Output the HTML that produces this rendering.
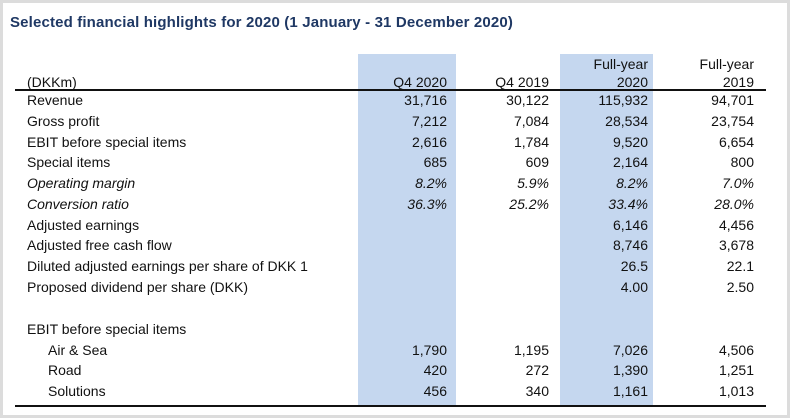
<!DOCTYPE html>
<html><head><style>
body{margin:0;width:790px;height:418px;background:#fff;position:relative;overflow:hidden;font-family:"Liberation Sans",Arial,sans-serif;}
.frame{position:absolute;left:0;top:0;width:784px;height:412px;border:3px solid #dcdcdc;}
.t{position:absolute;left:10px;top:14px;font-weight:bold;font-size:15px;letter-spacing:0.15px;color:#1f3864;}
.b{position:absolute;background:#c5d7ef;top:54px;height:352px;}
.l{position:absolute;height:2px;background:#111;left:15px;width:751px;}
.r{position:absolute;font-size:14px;color:#111;line-height:16px;white-space:nowrap;}
.n{text-align:right;}
</style></head><body>
<div class="frame"></div>
<div class="t">Selected financial highlights for 2020 (1 January - 31 December 2020)</div>
<div class="b" style="left:358px;width:98px"></div>
<div class="b" style="left:560px;width:93px"></div>
<div class="l" style="top:89px"></div>
<div class="l" style="top:405px"></div>
<div id="c"></div>
<script>
var rows=[
["(DKKm)","Q4 2020","Q4 2019","2020","2019",75,0],
["Revenue","31,716","30,122","115,932","94,701",93],
["Gross profit","7,212","7,084","28,534","23,754",114],
["EBIT before special items","2,616","1,784","9,520","6,654",135],
["Special items","685","609","2,164","800",155],
["Operating margin","8.2%","5.9%","8.2%","7.0%",176,1],
["Conversion ratio","36.3%","25.2%","33.4%","28.0%",197,1],
["Adjusted earnings","","","6,146","4,456",218],
["Adjusted free cash flow","","","8,746","3,678",238],
["Diluted adjusted earnings per share of DKK 1","","","26.5","22.1",259],
["Proposed dividend per share (DKK)","","","4.00","2.50",280],
["EBIT before special items","","","","",322],
["Air &amp; Sea","1,790","1,195","7,026","4,506",343,0,1],
["Road","420","272","1,390","1,251",363,0,1],
["Solutions","456","340","1,161","1,013",384,0,1]];
var rights=[447,549,648,754],h="";
rows.forEach(function(r){
 var y=r[5]-1,it=r[6]?"font-style:italic;":"";
 h+='<div class="r" style="top:'+y+'px;left:'+(r[7]?48:27)+'px;'+it+'">'+r[0]+'</div>';
 for(var k=0;k<4;k++){if(r[k+1])h+='<div class="r n" style="top:'+y+'px;left:'+(rights[k]-120)+'px;width:120px;'+it+'">'+r[k+1]+'</div>';}
});
h+='<div class="r n" style="top:56px;left:'+(648-120)+'px;width:120px">Full-year</div>';
h+='<div class="r n" style="top:56px;left:'+(754-120)+'px;width:120px">Full-year</div>';
document.getElementById("c").innerHTML=h;
</script>
</body></html>
